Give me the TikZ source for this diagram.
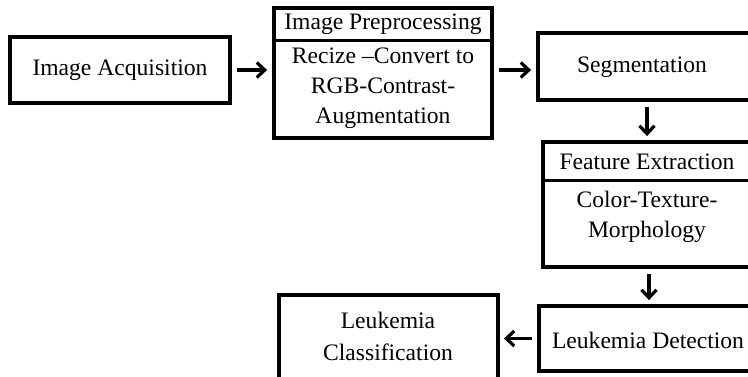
\documentclass[tikz,border=0pt]{standalone}
\usepackage{fontspec}
\setmainfont{Liberation Serif}
\usetikzlibrary{arrows.meta}
\begin{document}
\begin{tikzpicture}[x=1pt,y=-1pt,
  box/.style={draw, line width=3.8pt, inner sep=0pt},
  divider/.style={line width=3pt},
  txt/.style={font=\fontsize{23.6}{30}\selectfont, align=center, inner sep=0pt},
  arr/.style={line width=3.2pt, -{Straight Barb[length=8pt,width=15pt,line width=3.2pt]}}]
\useasboundingbox (0,0) rectangle (748,377);
\clip (0,0) rectangle (748,377);
% boxes
\node[box, minimum width=220pt, minimum height=66pt] (A) at (120,70) {};
\node[box, minimum width=218pt, minimum height=130pt] (P) at (383,73) {};
\node[box, minimum width=218pt, minimum height=67pt] (S) at (647,66.5) {};
\node[box, minimum width=212pt, minimum height=125pt] (F) at (649,204.5) {};
\node[box, minimum width=218pt, minimum height=65pt] (D) at (648,338.5) {};
\node[box, minimum width=219pt, minimum height=90pt] (C) at (388.5,340) {};
% dividers
\coordinate (pdiv) at (383,41);
\coordinate (fdiv) at (649,181);
\draw[divider] (pdiv -| P.west) -- (pdiv -| P.east);
\draw[divider] (fdiv -| F.west) -- (fdiv -| F.east);
% texts
\node[txt] (At) at (120,70) {Image Acquisition};
\node[txt] (Ph) at (383,24) {Image Preprocessing};
\node[txt] (Pb) at (383,88) {Recize –Convert to\\RGB-Contrast-\\Augmentation};
\node[txt] (St) at (642,67) {Segmentation};
\node[txt] (Fh) at (647,162) {Feature Extraction};
\node[txt] (Fb) at (647,217) {Color-Texture-\\Morphology};
\node[txt] (Dt) at (648,340) {Leukemia Detection};
\node[txt, font=\fontsize{23.6}{32}\selectfont] (Ct) at (388,336) {Leukemia\\Classification};
% arrows
\draw[arr, shorten <=5pt, shorten >=5pt] (A.east) -- (A.east -| P.west);
\draw[arr, shorten <=5pt, shorten >=5pt] (P.east |- A.east) -- (A.east -| S.west);
\draw[arr, shorten <=5pt, shorten >=4pt] (S.south) -- (S.south |- F.north);
\draw[arr, shorten <=5pt, shorten >=4pt] (F.south) -- (F.south |- D.north);
\draw[arr, shorten <=5pt, shorten >=4pt] (D.west) -- (D.west -| C.east);
\end{tikzpicture}
\end{document}
